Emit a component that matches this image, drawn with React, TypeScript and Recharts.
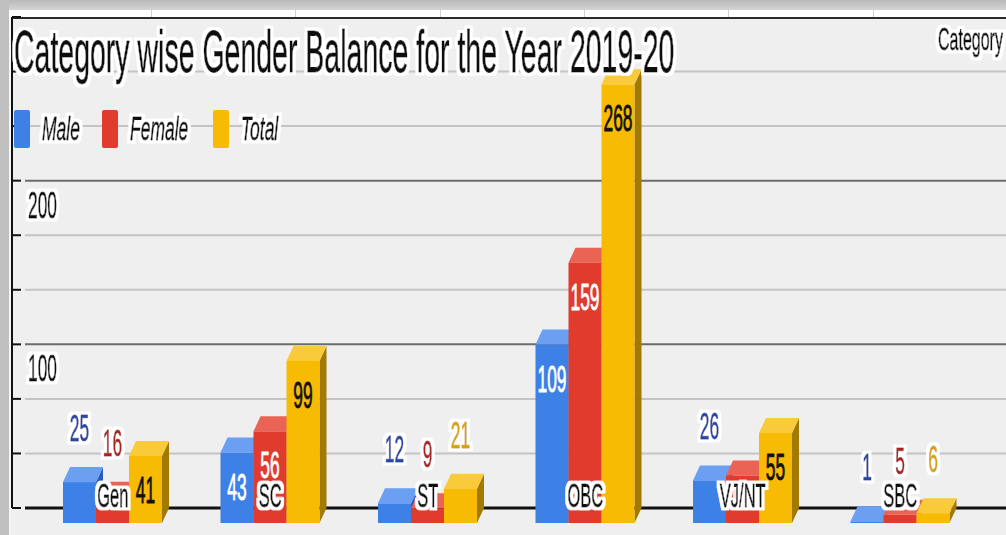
import React from 'react';
import { BarChart, Bar, XAxis, YAxis, CartesianGrid, Legend, LabelList } from 'recharts';

const categories = ['Gen', 'SC', 'ST', 'OBC', 'VJ/NT', 'SBC'];
const maleValues = [25, 43, 12, 109, 26, 1];
const femaleValues = [16, 56, 9, 159, 29, 5];
const totalValues = [41, 99, 21, 268, 55, 6];

const yTicks = [0, 33.33, 66.67, 100, 133.33, 166.67, 200, 233.33, 266.67, 300];
const yTickLabels = [100, 200];
const minorLines = [33.33, 66.67, 133.33, 166.67, 233.33, 266.67];
const majorLines = [100, 200];
const baseLine = [0];
// labels the original chart leaves out
const hiddenFemaleLabels = ['VJ/NT'];

const data = categories.map((category, i) => ({
  category,
  male: maleValues[i],
  female: femaleValues[i],
  total: totalValues[i],
}));

const FONT = '"Liberation Sans", Arial, sans-serif';
const DX = 7;
const DY = 15;
const SQUEEZE = 0.47;

const series = [
  { key: 'male', name: 'Male', front: '#3d80e6', top: '#6a9ff2', side: '#2a5cbd', outer: '#2446a6', inner: '#ffffff', hidden: [] as string[] },
  { key: 'female', name: 'Female', front: '#e03b2c', top: '#ea6455', side: '#a3190f', outer: '#a8231b', inner: '#ffffff', hidden: hiddenFemaleLabels },
  { key: 'total', name: 'Total', front: '#f7bb03', top: '#f9cb3a', side: '#a27a02', outer: '#d8a300', inner: '#111111', hidden: [] as string[] },
];

// squeezed text; the white glow comes from a filter so each label stays one element
const SText = ({ x, y, size, sx = SQUEEZE, anchor = 'start', fill = '#111', halo = false, italic = false, children }: any) => (
  <text
    transform={`translate(${x},${y}) scale(${sx},1)`}
    textAnchor={anchor}
    fontSize={size}
    fontFamily={FONT}
    fontStyle={italic ? 'italic' : 'normal'}
    fill={fill}
    stroke={fill}
    strokeWidth={0.7}
    vectorEffect="non-scaling-stroke"
    strokeLinejoin="round"
    filter={halo ? 'url(#halo)' : undefined}
  >
    {children}
  </text>
);

const HaloDefs = () => (
  <defs>
    <filter id="halo" x="-60%" y="-40%" width="220%" height="180%">
      <feMorphology in="SourceAlpha" operator="dilate" radius="5.5 2.6" result="grown" />
      <feFlood floodColor="#ffffff" />
      <feComposite in2="grown" operator="in" result="glow" />
      <feMerge>
        <feMergeNode in="glow" />
        <feMergeNode in="SourceGraphic" />
      </feMerge>
    </filter>
  </defs>
);

const makeShape = (c: any) => (p: any) => {
  const { x, y, width: w, height: h } = p;
  if (w == null || h == null || isNaN(y)) return <g />;
  const b = y + h;
  return (
    <g>
      <polygon points={`${x + w},${y + DY} ${x + w + DX},${y} ${x + w + DX},${b} ${x + w},${b + DY}`} fill={c.side} />
      <polygon points={`${x},${y + DY} ${x + DX},${y} ${x + w + DX},${y} ${x + w},${y + DY}`} fill={c.top} />
      <rect x={x} y={y + DY} width={w} height={Math.max(h, 0.5)} fill={c.front} />
    </g>
  );
};

const makeLabel = (c: any) => (p: any) => {
  const { x, y, width, value, index } = p;
  if (c.hidden.includes(categories[index])) return null;
  const inside = value >= 40;
  return (
    <SText
      x={x + width / 2}
      y={inside ? y + 62 : y - 26}
      size={37}
      anchor="middle"
      fill={inside ? c.inner : c.outer}
      halo={!inside}
    >
      {value}
    </SText>
  );
};

const CategoryTick = (p: any) => (
  <SText x={p.x} y={p.y - 1} size={33} sx={0.5} anchor="middle" halo>
    {p.payload.value}
  </SText>
);

const ValueTick = (p: any) => {
  const v = Math.round(p.payload.value);
  if (!yTickLabels.includes(v)) return <g />;
  return (
    <SText x={p.x + 5} y={p.y + 37} size={37} halo>
      {v}
    </SText>
  );
};

const gridLine = (stroke: string, width: number, inset: number) => (p: any) => (
  <line
    key={`g-${p.index}-${p.y1}`}
    x1={p.x1 + inset}
    y1={p.y1}
    x2={p.x2}
    y2={p.y2}
    stroke={stroke}
    strokeWidth={width}
  />
);

const LEGEND_X = [14, 102, 213];

const renderLegend = (props: any) => {
  const items = [...(props.payload || [])].sort(
    (a: any, b: any) => series.findIndex((s) => s.name === a.value) - series.findIndex((s) => s.name === b.value),
  );
  return (
    <svg width={320} height={60}>
      {items.map((item: any, i: number) => (
        <g key={item.value}>
          <rect x={LEGEND_X[i]} y={15} width={16} height={38} rx={2} fill={item.color} />
          <SText x={LEGEND_X[i] + 28} y={45} size={33} sx={0.53} italic halo>
            {item.value}
          </SText>
        </g>
      ))}
    </svg>
  );
};

const dividers = [151, 295, 440, 584, 728, 873];

export default function App() {
  return (
    <div style={{ position: 'fixed', left: 0, top: 0, width: 1006, height: 535, overflow: 'hidden', background: '#efefef' }}>
      <div style={{ position: 'absolute', left: 0, top: 0, width: 1006, height: 10, background: 'linear-gradient(#b9b9b9, #d4d4d4)' }} />
      <div style={{ position: 'absolute', left: 0, top: 10, width: 1006, height: 7, background: '#ffffff' }} />
      {dividers.map((d) => (
        <div key={d} style={{ position: 'absolute', left: d, top: 10, width: 1, height: 7, background: '#d0d0d0' }} />
      ))}
      <div style={{ position: 'absolute', left: 0, top: 0, width: 9, height: 535, background: '#c0c0c0' }} />
      <div style={{ position: 'absolute', left: 9, top: 17, width: 2, height: 518, background: '#f6f6f6' }} />
      <div style={{ position: 'absolute', left: 11, top: 17, width: 995, height: 2, background: '#2a2a2a' }} />
      <svg width={0} height={0} style={{ position: 'absolute' }}>
        <HaloDefs />
      </svg>
      <div style={{ position: 'absolute', left: 0, top: 0 }}>
        <BarChart
          width={1006}
          height={535}
          data={data}
          margin={{ top: 17, right: 0, bottom: 0, left: 12 }}
          barGap={0}
          barSize={33}
        >
          <CartesianGrid vertical={false} horizontalValues={minorLines} horizontal={gridLine('#c4c4c4', 2, 13)} />
          <CartesianGrid vertical={false} horizontalValues={majorLines} horizontal={gridLine('#6c6c6c', 2, 13)} />
          <CartesianGrid vertical={false} horizontalValues={baseLine} horizontal={gridLine('#111111', 3, 13)} />
          <YAxis
            mirror
            type="number"
            domain={[0, 300]}
            ticks={yTicks}
            interval={0}
            axisLine={{ stroke: '#111', strokeWidth: 2 }}
            tickLine={{ stroke: '#111', strokeWidth: 2 }}
            tickSize={9}
            tick={ValueTick}
          />
          <Legend
            layout="horizontal"
            align="center"
            verticalAlign="middle"
            wrapperStyle={{ left: 0, top: 95, width: 320, height: 60 }}
            content={renderLegend}
          />
          {series.map((c) => (
            <Bar key={c.key} dataKey={c.key} name={c.name} fill={c.front} shape={makeShape(c)} isAnimationActive={false}>
              <LabelList dataKey={c.key} content={makeLabel(c)} />
            </Bar>
          ))}
          <XAxis
            dataKey="category"
            height={27}
            padding={{ left: 22, right: 27 }}
            axisLine={false}
            tickLine={false}
            tickSize={0}
            tickMargin={0}
            interval={0}
            tick={CategoryTick}
          />
        </BarChart>
      </div>
      <svg width={1006} height={535} style={{ position: 'absolute', left: 0, top: 0, pointerEvents: 'none' }}>
        <SText x={14} y={72} size={60} sx={0.475} halo>
          Category wise Gender Balance for the Year 2019-20
        </SText>
        <SText x={938} y={50} size={32} sx={0.5} halo>
          Category
        </SText>
      </svg>
    </div>
  );
}
